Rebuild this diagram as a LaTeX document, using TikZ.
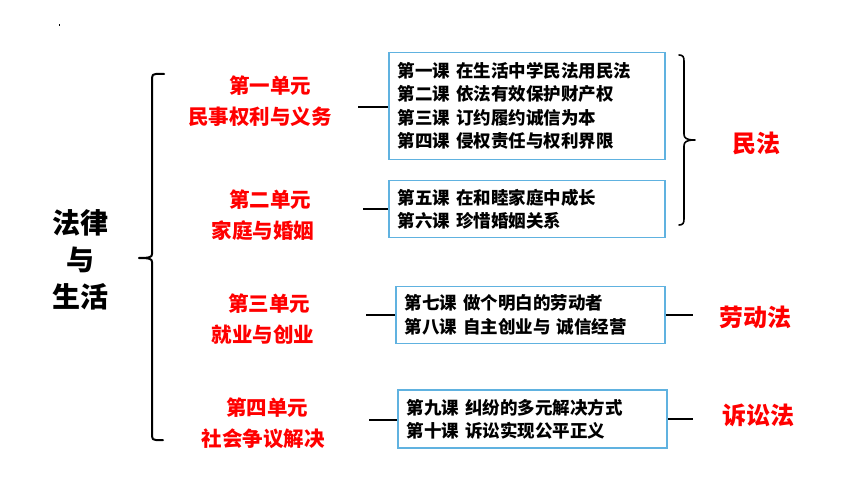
\documentclass[tikz,border=0pt]{standalone}
\usepackage{fontspec}
\setmainfont{Noto Sans CJK SC}
\definecolor{boxblue}{RGB}{96,178,224}
\definecolor{lawred}{RGB}{255,0,0}
\begin{document}
\begin{tikzpicture}[x=1pt,y=-1pt,
  lesson/.style={draw=boxblue, line width=1.8pt, fill=white, align=left, anchor=west,
    inner xsep=9pt, inner ysep=0pt,
    font=\fontsize{17.5}{23.5}\selectfont\bfseries},
  unit/.style={text=lawred, align=center, inner sep=0pt, font=\fontsize{20.5}{31}\selectfont\bfseries},
  law/.style={text=lawred, inner sep=0pt, font=\fontsize{24}{28}\selectfont\bfseries},
  title/.style={align=center, inner sep=0pt, font=\fontsize{28}{37}\selectfont\bfseries},
  link/.style={line width=2.2pt, black},
  bracket/.style={line width=2pt, black, line cap=round, line join=round}]
\useasboundingbox[fill=white] (0,0) rectangle (860,484);
\fill (58.5,24) rectangle (59.5,26);

% title
\node[title] (t) at (80,260) {法律\\与\\生活};

% left bracket
\coordinate (bt) at (164,74);
\coordinate (bn) at (139,258);
\coordinate (bb) at (163,440);
\draw[bracket] (bt) -- (156,74) .. controls (153,74) and (152,75) .. (152,78)
  -- (152,254) .. controls (152,257) and (150,258) .. (bn)
  .. controls (150,258) and (152,259) .. (152,262)
  -- (152,436) .. controls (152,439) and (153,440) .. (156,440) -- (bb);

% units
\node[unit] (u1) at (260,101.5) {\hspace*{20pt}第一单元\\民事权利与义务};
\node[unit] (u2) at (263,215) {\hspace*{14pt}第二单元\\家庭与婚姻};
\node[unit] (u3) at (263,319) {\hspace*{12pt}第三单元\\就业与创业};
\node[unit] (u4) at (263,423) {\hspace*{8pt}第四单元\\社会争议解决};

% lesson boxes
\node[lesson, text width=258pt, minimum height=107pt] (b1) at (388,106)
  {第一课 在生活中学民法用民法\\第二课 依法有效保护财产权\\第三课 订约履约诚信为本\\第四课 侵权责任与权利界限};
\node[lesson, text width=258pt, minimum height=57pt] (b2) at (388,209)
  {第五课 在和睦家庭中成长\\第六课 珍惜婚姻关系};
\node[lesson, text width=251pt, minimum height=57pt] (b3) at (395,315)
  {第七课 做个明白的劳动者\\第八课 自主创业与 诚信经营};
\node[lesson, text width=251pt, minimum height=58pt] (b4) at (397,419)
  {第九课 纠纷的多元解决方式\\第十课 诉讼实现公平正义};

% connectors unit -> box
\coordinate (c1) at (358,107);
\coordinate (c2) at (363,209);
\coordinate (c3) at (366,315);
\coordinate (c4) at (369,420);
\draw[link] (c1) -- (c1 -| b1.west);
\draw[link] (c2) -- (c2 -| b2.west);
\draw[link] (c3) -- (c3 -| b3.west);
\draw[link] (c4) -- (c4 -| b4.west);

% laws
\node[law] (l1) at (756,143) {民法};
\node[law] (l2) at (755,317) {劳动法};
\node[law] (l3) at (758,415) {诉讼法};

% right brace
\coordinate (rt) at (679,55);
\coordinate (rb) at (679,225);
\coordinate (rn) at (695,140);
\draw[bracket, line width=1.6pt] (rt) .. controls (683,55) and (684,57) .. (684,61)
  -- (684,134) .. controls (684,138) and (686,140) .. (rn)
  .. controls (686,140) and (684,142) .. (684,146)
  -- (684,219) .. controls (684,223) and (683,225) .. (rb);

% box -> law connectors
\coordinate (d3) at (693,315);
\coordinate (d4) at (693,419);
\draw[link] (b3.east |- d3) -- (d3);
\draw[link] (b4.east |- d4) -- (d4);
\end{tikzpicture}
\end{document}
